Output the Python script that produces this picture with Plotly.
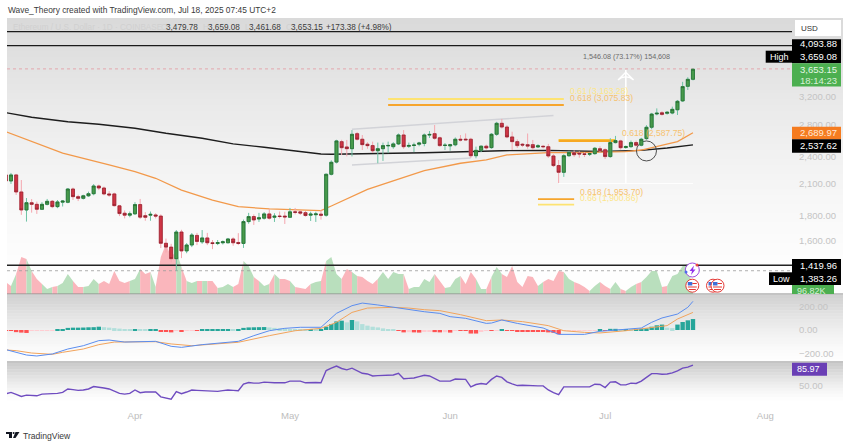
import pandas as pd
import plotly.graph_objects as go

W, H = 850, 447
FONT = "Liberation Sans"

dates = pd.date_range("2025-03-07", "2025-07-18").strftime("%Y-%m-%d").tolist()

opens = [2195, 2132, 2195, 2022, 1854, 1920, 1905, 1860, 1905, 1933,
         1884, 1925, 1924, 2051, 1977, 1961, 1985, 2005, 2081, 2061,
         2003, 2003, 1891, 1825, 1808, 1820, 1903, 1804, 1808, 1810,
         1800, 1579, 1550, 1466, 1667, 1522, 1566, 1640, 1590, 1620,
         1583, 1577, 1583, 1583, 1612, 1585, 1578, 1753, 1796, 1775,
         1782, 1819, 1790, 1800, 1800, 1790, 1837, 1837, 1830, 1808,
         1812, 1817, 1808, 2202, 2335, 2577, 2512, 2491, 2678, 2607,
         2545, 2528, 2467, 2491, 2525, 2515, 2549, 2661, 2520, 2530,
         2545, 2555, 2660, 2678, 2625, 2530, 2525, 2538, 2607, 2608,
         2607, 2408, 2471, 2521, 2504, 2670, 2815, 2765, 2636, 2577,
         2545, 2540, 2540, 2512, 2520, 2515, 2405, 2296, 2223, 2408,
         2443, 2438, 2430, 2425, 2432, 2491, 2478, 2398, 2565, 2586,
         2505, 2516, 2565, 2533, 2615, 2762, 2945, 2962, 2954, 2958,
         3005, 3136, 3364, 3479.78]
highs = [2227, 2216, 2206, 2142, 1964, 1954, 1930, 1925, 1955, 1945,
         1945, 1945, 2060, 2065, 1995, 1995, 2025, 2100, 2095, 2075,
         2030, 2015, 1900, 1850, 1840, 1925, 1955, 1835, 1840, 1825,
         1815, 1615, 1575, 1683, 1685, 1580, 1659, 1660, 1683, 1660,
         1604, 1604, 1600, 1620, 1625, 1658, 1770, 1828, 1815, 1828,
         1835, 1863, 1825, 1840, 1838, 1872, 1872, 1855, 1845, 1838,
         1838, 1854, 2210, 2355, 2600, 2600, 2598, 2725, 2700, 2660,
         2570, 2577, 2565, 2565, 2577, 2570, 2680, 2725, 2565, 2565,
         2575, 2680, 2712, 2792, 2640, 2560, 2550, 2630, 2660, 2681,
         2625, 2516, 2530, 2540, 2685, 2835, 2875, 2790, 2703, 2605,
         2560, 2680, 2598, 2545, 2535, 2549, 2425, 2359, 2425, 2465,
         2470, 2460, 2450, 2445, 2510, 2520, 2495, 2620, 2649, 2600,
         2530, 2590, 2590, 2625, 2790, 2960, 3025, 2985, 2985, 3050,
         3150, 3438, 3515, 3659.08]
lows = [2102, 2102, 1993, 1811, 1753, 1830, 1819, 1854, 1895, 1870,
        1870, 1885, 1915, 1945, 1935, 1950, 1975, 1990, 2040, 1990,
        1975, 1885, 1800, 1780, 1790, 1810, 1775, 1760, 1760, 1780,
        1543, 1510, 1440, 1383.26, 1470, 1505, 1550, 1565, 1575, 1565,
        1535, 1565, 1570, 1578, 1560, 1565, 1544, 1735, 1725, 1750,
        1770, 1770, 1750, 1780, 1733, 1785, 1815, 1810, 1795, 1758,
        1750, 1770, 1795, 2190, 2320, 2415, 2400, 2400, 2590, 2475,
        2490, 2440, 2322, 2348, 2438, 2490, 2535, 2490, 2500, 2450,
        2520, 2520, 2623, 2600, 2515, 2475, 2467, 2520, 2580, 2590,
        2382, 2378, 2450, 2480, 2490, 2650, 2745, 2620, 2475, 2500,
        2510, 2490, 2475, 2500, 2495, 2382, 2280, 2111, 2174, 2395,
        2395, 2385, 2393, 2405, 2420, 2445, 2370, 2385, 2555, 2480,
        2490, 2500, 2515, 2520, 2600, 2735, 2925, 2920, 2935, 2940,
        2930, 3120, 3305, 3461.68]
closes = [2132, 2195, 2022, 1854, 1920, 1905, 1860, 1905, 1933, 1884,
          1927, 1935, 2051, 1977, 1961, 1985, 2005, 2081, 2061, 2003,
          1993, 1893, 1822, 1808, 1820, 1903, 1791, 1790, 1815, 1800,
          1579, 1550, 1466, 1667, 1522, 1566, 1643, 1593, 1620, 1583,
          1577, 1584, 1590, 1612, 1583, 1578, 1753, 1796, 1767, 1785,
          1819, 1782, 1799, 1797, 1793, 1837, 1833, 1826, 1805, 1817,
          1819, 1808, 2202, 2333, 2586, 2503, 2491, 2670, 2607, 2540,
          2528, 2467, 2491, 2528, 2530, 2549, 2661, 2515, 2530, 2535,
          2560, 2661, 2668, 2619, 2528, 2533, 2538, 2607, 2597, 2600,
          2408, 2471, 2521, 2500, 2670, 2815, 2765, 2636, 2577, 2528,
          2535, 2522, 2503, 2525, 2515, 2405, 2296, 2223, 2408, 2447,
          2420, 2428, 2423, 2432, 2496, 2467, 2398, 2565, 2590, 2503,
          2516, 2565, 2533, 2607, 2762, 2943, 2955, 2939, 2968, 3011,
          3130, 3360, 3479.78, 3653.15]

# volume in thousands
volume = [360, 240, 600, 1110, 1050, 690, 450, 300, 150, 210,
          240, 330, 600, 390, 210, 210, 240, 450, 300, 390,
          300, 690, 390, 330, 390, 450, 750, 600, 660, 210,
          1110, 1500, 1110, 1290, 810, 390, 330, 390, 390, 390,
          390, 180, 210, 300, 210, 300, 990, 840, 510, 390,
          240, 300, 600, 450, 450, 390, 210, 180, 150, 300,
          360, 390, 990, 1110, 600, 450, 750, 660, 540, 510,
          390, 300, 450, 660, 450, 660, 600, 600, 150, 210,
          210, 450, 360, 600, 390, 180, 210, 450, 540, 300,
          660, 450, 150, 150, 510, 810, 600, 510, 840, 360,
          210, 540, 510, 240, 360, 450, 390, 690, 660, 450,
          360, 300, 210, 90, 240, 360, 240, 150, 360, 150,
          90, 210, 300, 360, 510, 690, 690, 210, 240, 540,
          600, 840, 900, 96.82]

# moving averages, read at a few days (index into dates)
ma_black_days = [0, 5, 12, 18, 25, 31, 38, 44, 50, 57, 61, 63, 81, 96, 105, 115, 123, 128, 133]
ma_black = [2963, 2898, 2836, 2803, 2748, 2683, 2620, 2549, 2508, 2455, 2428, 2425,
            2443, 2467, 2471, 2457, 2471, 2500, 2537.62]
ma_orange_days = [0, 5, 11, 20, 25, 29, 34, 40, 45, 51, 61, 63, 70, 76, 81,
                  88, 93, 97, 105, 110, 120, 123, 126, 130, 133]
ma_orange = [2703, 2577, 2437, 2303, 2230, 2160, 2041, 1945, 1884, 1863, 1848, 1890, 2048, 2150, 2240,
             2322, 2359, 2417, 2445, 2445, 2457, 2475, 2517, 2577, 2689.97]

macd_days = [0, 2, 4, 6, 9, 12, 15, 18, 20, 23, 29, 32, 34, 38, 41, 45, 48, 51, 54, 57, 61,
             64, 67, 69, 72, 75, 78, 81, 84, 86, 89, 93, 94, 96, 99, 104, 107, 112, 115,
             120, 123, 125, 127, 130, 132, 133]
macd_line = [-166, -189, -212, -220, -203, -161, -133, -90, -85, -102, -96, -138, -147, -124, -113,
             -96, -48, -6, 14, 23, 23, 141, 206, 228, 212, 192, 169, 155, 141, 113, 99, 56, 59,
             85, 56, 17, -37, -37, -11, 6, 17, 65, 102, 135, 192, 243]
signal_days = [0, 2, 5, 9, 11, 15, 18, 21, 29, 32, 36, 41, 45, 51, 56, 61, 64, 67, 70, 75, 78, 81,
               84, 88, 93, 96, 100, 105, 108, 112, 115, 120, 123, 128, 130, 133]
signal_line = [-169, -175, -195, -206, -189, -161, -124, -102, -99, -118, -133, -118, -104, -48, -6, 14,
               65, 149, 186, 192, 186, 172, 164, 130, 79, 85, 71, 37, -6, -20, -25, -6, 8, 37, 93, 149]
macd_hist = [-3, -5, -18, -22, -25, -6, -5, -4, -3, -2,
             3, 6, 18, 20, 20, 21, 23, 24, 28, 24,
             20, 16, 12, 8, 4, 8, 2, 1, 1, 3,
             -10, -12, -20, -6, -16, -3, -1, -1, 3, 4,
             5, 6, 6, 7, 6, 8, 18, 22, 23, 24,
             25, 22, 18, 14, 10, 7, 5, 3, 2, 2,
             1, 1, 28, 51, 73, 79, 65, 85, 73, 50,
             37, 28, 22, 14, 6, 2, -3, -20, -18, -20,
             -22, -15, -10, -18, -20, -18, -22, -8, -8, -8,
             -30, -30, -10, -8, -8, -6, 2, -3, -6, -10,
             -12, -14, -14, -14, -14, -20, -24, -36, -8, -6,
             -5, -4, -3, -2, -1, 3, -3, 10, 10, 3,
             4, 2, 4, 10, 14, 28, 40, 46, 20, 16,
             46, 68, 82, 93]

rsi = [35.6, 38, 34.4, 30.8, 33.2, 32.6, 32, 35, 35.6, 35,
       36.2, 38, 44, 42.8, 41.6, 42.2, 44, 48.2, 47.6, 45.8,
       44, 39.8, 36.2, 35, 36.2, 42.2, 37.4, 38.6, 38.6, 38.6,
       30.2, 28.4, 26, 39.2, 35.6, 38.6, 42.2, 41.6, 41, 39.8,
       39.8, 39.8, 41, 42.2, 41.6, 41, 52.4, 55.4, 54.2, 54.2,
       56, 54.8, 54.8, 54.8, 54.8, 57.8, 58.4, 57.8, 54.8, 55.4,
       55.4, 54.8, 76.4, 80.6, 84.2, 80, 77.6, 80.6, 76.4, 71.6,
       70.4, 66.8, 67.4, 68, 68, 68.6, 71.6, 62, 62.6, 63.2,
       65.6, 68, 66.8, 62.6, 57.8, 57.8, 57.8, 61.4, 60.8, 60.8,
       47.6, 51.8, 53.6, 52.4, 60.8, 66.8, 64.4, 56.6, 53, 50,
       50.6, 50, 48.8, 49.4, 49.4, 42.2, 37.4, 33.8, 47.6, 47.6,
       47, 47, 47, 47.6, 52.4, 51.8, 46.4, 56, 56.6, 51.2,
       51.2, 54.2, 53.6, 57.8, 64.4, 71, 71, 69.8, 70.4, 72.2,
       75.8, 80.6, 82.4, 85.97]

price_ticks = [1600, 1800, 2100, 2400, 2800, 3200]
month_ticks = ["2025-04-01", "2025-05-01", "2025-06-01", "2025-07-01", "2025-08-01"]
month_names = ["Apr", "May", "Jun", "Jul", "Aug"]

X_START, X_END = "2025-03-07 05:30", "2025-08-06 04:00"
PRICE_RANGE = [3.0922, 3.6699]


def px_x(x):
    return x / W


def px_y(y):
    return 1 - y / H


def rect(x0, y0, x1, y1, color, layer="above", line=None, kind="rect"):
    return dict(type=kind, xref="paper", yref="paper", x0=px_x(x0), x1=px_x(x1), y0=px_y(y0), y1=px_y(y1),
                fillcolor=color, layer=layer, line=dict(width=0) if line is None else line)


def label(x, y, text, color="#ffffff", size=9.5, anchor="left"):
    return dict(xref="paper", yref="paper", x=px_x(x), y=px_y(y), text=text, showarrow=False,
                xanchor=anchor, yanchor="middle", font=dict(family=FONT, size=size, color=color), borderpad=0)


def gradient(y_top, y_bottom, start, power, x1=843):
    bands = []
    n = max(int((y_bottom - y_top) / 3), 1)
    for k in range(n):
        t = k / n
        g = int(255 - (255 - start) * (1 - t) ** power)
        bands.append(rect(7, y_top + k * (y_bottom - y_top) / n, x1, y_top + (k + 1) * (y_bottom - y_top) / n + 0.5,
                          f"rgb({g},{g},{g})", layer="below"))
    return bands


def hline(price, color, width, dash="solid"):
    return go.Scatter(x=[X_START, X_END], y=[price, price], yaxis="y2", mode="lines",
                      line=dict(color=color, width=width, dash=dash))


def segment(d0, p0, d1, p1, color, width):
    return go.Scatter(x=[d0, d1], y=[p0, p1], yaxis="y2", mode="lines", line=dict(color=color, width=width))


fig = go.Figure()

# volume area, one piece per run of up or down days
up = [c >= o for o, c in zip(opens, closes)]
start = 0
for i in range(1, len(dates) + 1):
    if i == len(dates) or up[i] != up[start]:
        end = min(i, len(dates) - 1)
        color = "#b9dfbd" if up[start] else "#fab6bc"
        fig.add_trace(go.Scatter(x=dates[start:end + 1], y=volume[start:end + 1], yaxis="y", mode="none",
                                 fill="tozeroy", fillcolor=color))
        start = i

# levels
fig.add_trace(hline(4381, "#1a1a1a", 1.3))
fig.add_trace(hline(4093.88, "#1a1a1a", 1.3))
fig.add_trace(hline(3659.08, "#e3a7ad", 1, "dot"))
fig.add_trace(hline(1419.96, "#222222", 1.6))
fig.add_trace(hline(1383.26, "#9a9a9a", 0.8, "dot"))

# channel
fig.add_trace(segment("2025-05-13", 2735, "2025-06-21", 2923, "#d2d3d8", 1.4))
fig.add_trace(segment("2025-05-13", 2303, "2025-06-05", 2382, "#d2d3d8", 1.4))

# fib zones
fig.add_trace(segment("2025-05-20", 3165, "2025-06-23", 3165, "#fde372", 2))
fig.add_trace(segment("2025-05-20", 3075.83, "2025-06-23", 3075.83, "#f6a52c", 2))
fig.add_trace(segment("2025-06-22", 2600, "2025-07-03", 2600, "#fbe34e", 1.8))
fig.add_trace(segment("2025-06-22", 2587.75, "2025-07-03", 2587.75, "#f7a823", 2.4))
fig.add_trace(segment("2025-06-18", 1953.7, "2025-06-25", 1953.7, "#f6a52c", 1.6))
fig.add_trace(segment("2025-06-18", 1902, "2025-06-25", 1902, "#fde372", 1.8))

# measure tool
fig.add_trace(segment("2025-06-22", 2107, "2025-07-18", 2107, "#ffffff", 1))
fig.add_trace(segment("2025-07-05", 2107, "2025-07-05", 3640, "#ffffff", 1.6))
fig.add_trace(go.Scatter(x=["2025-07-05"], y=[3600], yaxis="y2", mode="markers",
                         marker=dict(symbol="arrow-wide-open", size=11, color="#ffffff",
                                     line=dict(color="#ffffff", width=1.4))))

fig.add_trace(go.Scatter(x=[dates[i] for i in ma_black_days], y=ma_black, yaxis="y2", mode="lines",
                         line=dict(color="#1d1d1d", width=1.4)))
fig.add_trace(go.Scatter(x=[dates[i] for i in ma_orange_days], y=ma_orange, yaxis="y2", mode="lines",
                         line=dict(color="#f2994a", width=1.3)))
fig.add_trace(go.Scatter(x=["2025-07-09"], y=[2464], yaxis="y2", mode="markers",
                         marker=dict(symbol="circle-open", size=20, color="#3c3c3c",
                                     line=dict(color="#3c3c3c", width=0.9))))

# candles: wicks first, then bodies on top with their own border
fig.add_trace(go.Candlestick(x=dates, open=opens, high=highs, low=lows, close=closes, yaxis="y5",
                             increasing=dict(line=dict(color="#6cc3a4", width=1), fillcolor="#6cc3a4"),
                             decreasing=dict(line=dict(color="#f5a6ae", width=1), fillcolor="#f5a6ae")))
body_top = [max(o, c) for o, c in zip(opens, closes)]
body_bottom = [min(o, c) for o, c in zip(opens, closes)]
fig.add_trace(go.Candlestick(x=dates, open=opens, high=body_top, low=body_bottom, close=closes, yaxis="y5",
                             increasing=dict(line=dict(color="#23682b", width=0.7), fillcolor="#479a4c"),
                             decreasing=dict(line=dict(color="#8e1f2c", width=0.7), fillcolor="#cf3545")))

# macd pane
hist_colors = []
for i, v in enumerate(macd_hist):
    prev = macd_hist[i - 1] if i else 0
    if v >= 0:
        hist_colors.append("#26a69a" if v >= prev else "#b2dfdb")
    else:
        hist_colors.append("#ff5252" if v <= prev else "#ffcdd2")
fig.add_trace(go.Bar(x=dates, y=macd_hist, yaxis="y3", marker=dict(color=hist_colors, line=dict(width=0))))
fig.add_trace(go.Scatter(x=[dates[i] for i in signal_days], y=signal_line, yaxis="y3", mode="lines",
                         line=dict(color="#f2a45c", width=1)))
fig.add_trace(go.Scatter(x=[dates[i] for i in macd_days], y=macd_line, yaxis="y3", mode="lines",
                         line=dict(color="#5b8def", width=1)))

# rsi pane
fig.add_trace(go.Scatter(x=dates, y=rsi, yaxis="y4", mode="lines", line=dict(color="#6f4cc0", width=1.4)))

shapes = []
shapes += gradient(18, 294, 218, 1.5)
shapes += gradient(295, 362, 210, 1.5)
shapes += gradient(363, 400, 205, 1.4)
shapes.append(rect(7, 293.6, 843, 294.6, "#8a8a8a"))
shapes.append(rect(7, 361.6, 843, 362.6, "#8a8a8a"))

# price tags on the right
shapes += [
    rect(795, 20, 841, 36, "#ffffff"),
    rect(792, 39.3, 841, 63.3, "#000000"),
    rect(765.7, 50.7, 792, 62.7, "#000000"),
    rect(792, 63.3, 841, 86.5, "#4caf50"),
    rect(792, 126.7, 841, 139.3, "#f57c20"),
    rect(792, 139.3, 841, 152.7, "#000000"),
    rect(792, 259, 841, 285, "#000000"),
    rect(769, 272.3, 792, 285, "#000000"),
    rect(792, 285, 834, 294, "#4caf50"),
    rect(792, 362.7, 827, 375.7, "#6a3fb5"),
]

# event icons
shapes.append(rect(685.3, 263, 699.3, 277, "#ffffff", kind="circle", line=dict(color="#a04be0", width=1)))
shapes.append(dict(type="path", xref="paper", yref="paper", layer="above", fillcolor="#9333ea", line=dict(width=0),
                   path="M {} {} L {} {} L {} {} L {} {} L {} {} L {} {} Z".format(
                       px_x(694), px_y(265.5), px_x(689.5), px_y(271), px_x(692), px_y(271),
                       px_x(691), px_y(275), px_x(695.5), px_y(269.5), px_x(693), px_y(269.5))))
shapes.append(rect(695.5, 263.5, 698.5, 266.5, "#ef4444", kind="circle"))
shapes.append(rect(684.5, 270.5, 687.5, 273.5, "#4f6bed", kind="circle"))
for cx in (692.3, 713, 717.5):
    shapes.append(rect(cx - 6.5, 279.2, cx + 6.5, 292.2, "#ffffff", kind="circle",
                       line=dict(color="#e53935", width=1)))
    shapes.append(rect(cx - 4.5, 282, cx, 285.5, "#3f6fd8"))
    shapes.append(rect(cx - 4.5, 286.5, cx + 4.5, 287.5, "#e53935"))
    shapes.append(rect(cx, 283, cx + 4.5, 284, "#e53935"))
    shapes.append(rect(cx - 3.5, 289, cx + 3.5, 290, "#e53935"))

# tradingview mark
shapes += [
    rect(6, 432, 12, 434, "#131722"),
    rect(9, 432, 12, 438, "#131722"),
    rect(12.6, 432, 14.6, 434, "#131722", kind="circle"),
    dict(type="path", xref="paper", yref="paper", layer="above", fillcolor="#131722", line=dict(width=0),
         path="M {} {} L {} {} L {} {} L {} {} Z".format(px_x(15.5), px_y(432), px_x(19.5), px_y(432),
                                                          px_x(15.5), px_y(438), px_x(13), px_y(438))),
]

annotations = [
    label(7, 10, "Wave_Theory created with TradingView.com, Jul 18, 2025 07:45 UTC+2", "#3a3a3a", 8.4),
    label(12, 27.5, "Ethereum / U.S. Dollar · 1D · COINBASE", "#d0d0d0", 8.2),
    label(160, 27.5, "O", "#d0d0d0", 8.2),
    label(164.5, 27.5, "3,479.78", "#3c3c3c", 8.2),
    label(202, 27.5, "H", "#d0d0d0", 8.2),
    label(207, 27.5, "3,659.08", "#3c3c3c", 8.2),
    label(244, 27.5, "L", "#d0d0d0", 8.2),
    label(248, 27.5, "3,461.68", "#3c3c3c", 8.2),
    label(285, 27.5, "C", "#d0d0d0", 8.2),
    label(290, 27.5, "3,653.15", "#3c3c3c", 8.2),
    label(325, 27.5, "+173.38 (+4.98%)", "#3c3c3c", 8.2),
    label(626, 56, "1,546.08 (73.17%) 154,608", "#6b6b6b", 7.2, "center"),
    label(569, 91, "0.61 (3,163.28)", "#fde68a", 8.6),
    label(569, 98, "0.618 (3,075.83)", "#f6c26f", 8.6),
    label(621, 133, "0.618 (2,587.75)", "#f6c26f", 8.6),
    label(579, 192, "0.618 (1,953.70)", "#f6c26f", 8.6),
    label(579, 197.5, "0.66 (1,900.86)", "#fde68a", 8.6),
    label(800, 28, "USD", "#333333", 8),
    label(799, 43.5, "4,093.88"),
    label(799, 56.5, "3,659.08"),
    label(769, 56.5, "High", "#ffffff", 9),
    label(799, 69.3, "3,653.15", "#e6f6e6"),
    label(799, 80, "18:14:23", "#d6efd6"),
    label(799, 132.7, "2,689.97", "#ffe9d8"),
    label(799, 145.5, "2,537.62"),
    label(799, 265.3, "1,419.96"),
    label(799, 278, "1,383.26"),
    label(771.5, 278.5, "Low", "#ffffff", 9),
    label(796, 291, "96.82K", "#d6efd6", 9),
    label(796, 369.3, "85.97", "#ffffff", 9),
    label(22, 436, "TradingView", "#3a3a3a", 8.6),
]

tick_font = dict(family=FONT, size=9.5, color="#c4c4c4")
fig.update_layout(
    width=W,
    height=H,
    autosize=False,
    margin=dict(l=0, r=0, t=0, b=0),
    paper_bgcolor="#ffffff",
    plot_bgcolor="rgba(0,0,0,0)",
    showlegend=False,
    barmode="overlay",
    bargap=0.15,
    boxgap=0.16,
    shapes=shapes,
    annotations=annotations,
    xaxis=dict(
        type="date",
        domain=[px_x(7), px_x(792)],
        range=[X_START, X_END],
        anchor="y4",
        rangeslider=dict(visible=False),
        showgrid=False,
        zeroline=False,
        showline=False,
        tickmode="array",
        tickvals=month_ticks,
        ticktext=month_names,
        ticks="",
        tickfont=dict(family=FONT, size=9.6, color="#bdbdbd"),
        ticklabelstandoff=3,
    ),
    yaxis=dict(domain=[px_y(294), px_y(18)], range=[0, 8280], visible=False, fixedrange=True),
    yaxis2=dict(
        domain=[px_y(294), px_y(18)],
        type="log",
        range=PRICE_RANGE,
        overlaying="y",
        side="right",
        anchor="x",
        showgrid=False,
        zeroline=False,
        tickmode="array",
        tickvals=price_ticks,
        ticktext=[f"{v:,.2f}" for v in price_ticks],
        tickfont=tick_font,
        ticks="",
        ticklabelstandoff=6,
    ),
    yaxis5=dict(domain=[px_y(294), px_y(18)], type="log", range=PRICE_RANGE, overlaying="y", visible=False),
    yaxis3=dict(
        domain=[px_y(362), px_y(294)],
        range=[-271, 305],
        side="right",
        anchor="x",
        showgrid=False,
        zeroline=False,
        tickmode="array",
        tickvals=[200, 0, -200],
        ticktext=["200.00", "0.00", "−200.00"],
        tickfont=tick_font,
        ticks="",
        ticklabelstandoff=6,
    ),
    yaxis4=dict(
        domain=[px_y(405), px_y(362)],
        range=[15.8, 91.4],
        side="right",
        anchor="x",
        showgrid=False,
        zeroline=False,
        tickmode="array",
        tickvals=[50],
        ticktext=["50.00"],
        tickfont=tick_font,
        ticks="",
        ticklabelstandoff=6,
    ),
)

fig.write_html("out.html", config={"displayModeBar": False},
               post_script="document.body.style.margin='0';document.body.style.overflow='hidden';")
